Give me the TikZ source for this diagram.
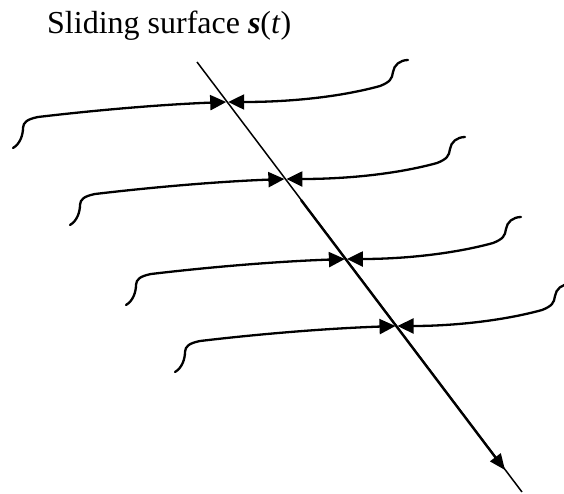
\documentclass[tikz,border=0pt]{standalone}
\usepackage{fontspec}
\setmainfont{Liberation Serif}
\usetikzlibrary{arrows.meta}
\tikzset{
  traj/.style={line width=2.3pt, line cap=round, -{Triangle[length=16pt,width=15pt]}},
  surf/.style={line width=1.5pt},
  surfthick/.style={line width=2.4pt, -{Triangle[length=16pt,width=13pt]}},
  title/.style={inner sep=0pt, anchor=base west, font=\fontsize{32}{38}\selectfont}
}
% #1 name, #2 x shift, #3 y shift, #4 tip x (in local coordinates)
\newcommand\slidecurve[4]{%
  \begin{scope}[shift={(#2,#3)}]
    \coordinate (#1ls) at (13,148);
    \coordinate (#1lt) at ({#4-1},102);
    \coordinate (#1rs) at (408,60);
    \coordinate (#1rt) at ({#4+1},102);
    \draw[traj] (#1ls) .. controls (20,144) and (23,135) .. (23,128)
      .. controls (23,122) and (28,119) .. (38,117)
      .. controls (80,112) and (150,105) .. (#1lt);
    \draw[traj] (#1rs) .. controls (400,60) and (394,65) .. (393,72)
      .. controls (392,79) and (390,82) .. (380,86)
      .. controls (340,97) and (290,102) .. (#1rt);
  \end{scope}}
\begin{document}
\begin{tikzpicture}[x=1pt,y=-1pt]
  \useasboundingbox (0,0) rectangle (564,493);
  \clip (0,0) rectangle (564,493);
  \node[title] (ttl) at (47,33) {Sliding surface \textbf{\textit{s}}(\textit{t})};
  \coordinate (stop) at (197,62);
  \coordinate (sbot) at (522,492);
  \coordinate (smid) at (301,200);
  \coordinate (stip) at (505,470);
  \draw[surf] (stop) -- (sbot);
  \draw[surfthick] (smid) -- (stip);
  \slidecurve{a}{0}{0}{227.2}
  \slidecurve{b}{57}{77}{228.4}
  \slidecurve{c}{113}{157}{232.9}
  \slidecurve{d}{162}{224}{234.5}
\end{tikzpicture}
\end{document}
